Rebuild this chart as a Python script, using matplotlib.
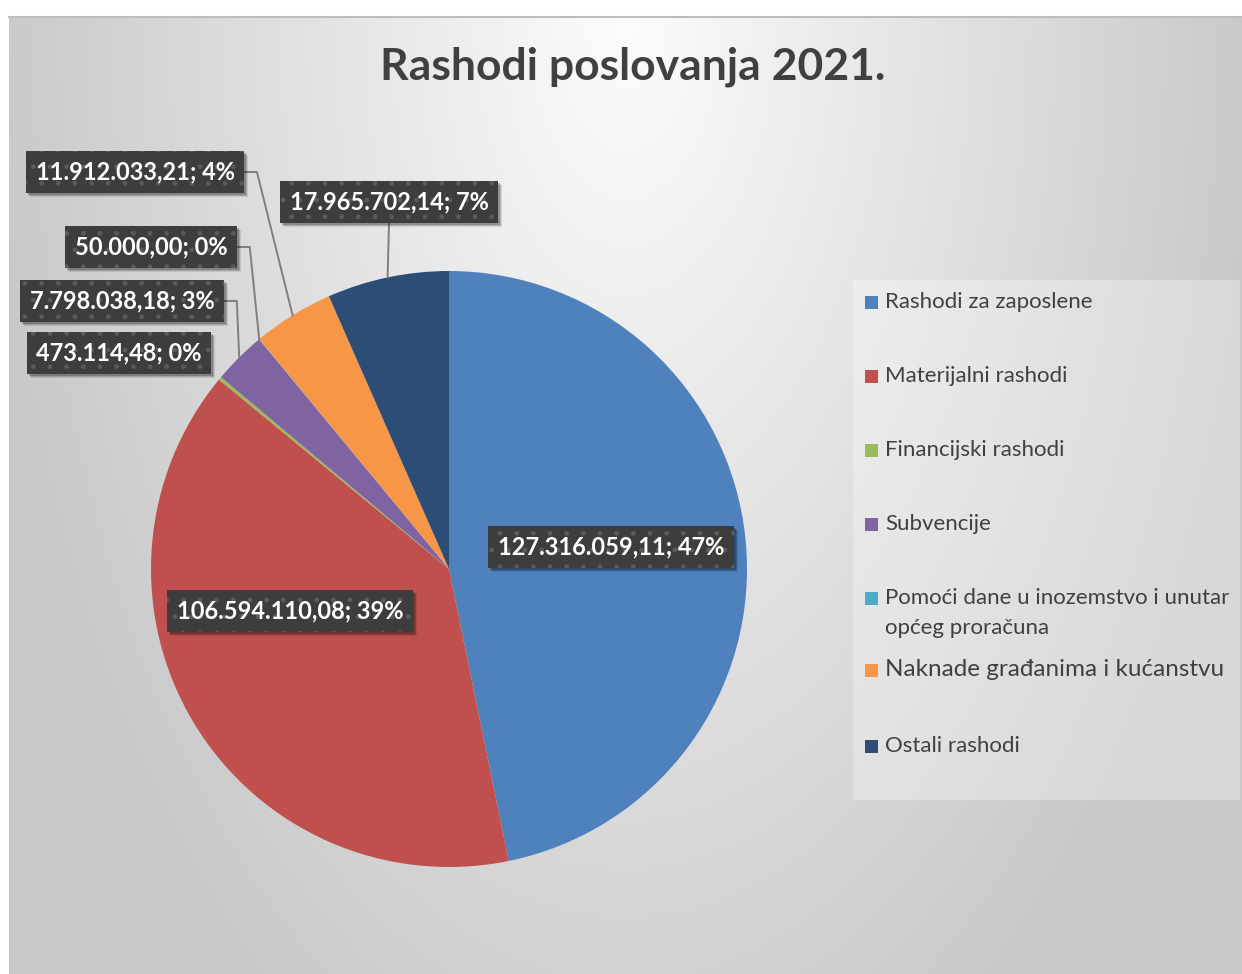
import numpy as np
import matplotlib
matplotlib.use("Agg")
import matplotlib.pyplot as plt
from matplotlib.patches import Rectangle

plt.rcParams["font.family"] = ["Lato", "DejaVu Sans"]

# --- data -------------------------------------------------------------
categories = [
    "Rashodi za zaposlene",
    "Materijalni rashodi",
    "Financijski rashodi",
    "Subvencije",
    "Pomoći dane u inozemstvo i unutar\nopćeg proračuna",
    "Naknade građanima i kućanstvu",
    "Ostali rashodi",
]
values = [127316059.11, 106594110.08, 473114.48, 7798038.18,
          50000.00, 11912033.21, 17965702.14]
colors = ["#4F81BD", "#C0504D", "#9BBB59", "#8064A2",
          "#4BACC6", "#F79646", "#2C4D75"]
title = "Rashodi poslovanja 2021."

# --- layout (pixel coords, y from top) --------------------------------
W, H = 1242, 974
pie_center = (449, 569)
pie_radius = 298
# centre of each data label box
label_pos = [(611, 547), (290, 611), (119, 353), (122, 301),
             (151, 247), (135, 172), (389, 202)]
# leader style: None, "elbow" (from right side) or "down" (from bottom)
leader = [None, None, None, "elbow", "elbow", "elbow", "down"]
legend_y = [302, 376, 450, 524, 598, 670, 746]
legend_size = [16, 16, 16, 16, 16, 17.5, 16]


def fy(y):
    return H - y


def fmt(v, total):
    s = f"{v:,.2f}".replace(",", "X").replace(".", ",").replace("X", ".")
    return f"{s}; {round(100 * v / total)}%"


fig = plt.figure(figsize=(W / 100, H / 100), dpi=100)
fig.patch.set_facecolor("white")
ax = fig.add_axes([0, 0, 1, 1])

# chart area background: light centre at top fading to grey
xx, yy = np.meshgrid(np.arange(9, W), np.arange(16, H))
d = np.sqrt(((xx - 625) / 640.0) ** 2 + (0.8 * (yy - 16) / 958.0) ** 2)
g = (252 - 52 * np.clip(d, 0, 1)) / 255.0
ax.imshow(np.dstack([g, g, g]), extent=(9, W, 0, fy(16)), origin="upper",
          zorder=0, interpolation="bilinear")
ax.plot([9, W], [fy(16.5), fy(16.5)], color="#bdbdbd", lw=1.5, zorder=1)

# pie
wedges, _ = ax.pie(values, colors=colors, startangle=90, counterclock=False,
                   center=(pie_center[0], fy(pie_center[1])), radius=pie_radius,
                   wedgeprops=dict(linewidth=0), frame=True)
for w in wedges:
    w.set_zorder(2)

ax.set_xlim(0, W)
ax.set_ylim(0, H)
ax.set_aspect("equal")
ax.axis("off")

ax.text(633, fy(67), title, ha="center", va="center", fontsize=32,
        fontweight="bold", color="#404040", zorder=5)

# data labels
total = sum(values)
texts = []
for v, (lx, ly) in zip(values, label_pos):
    t = ax.text(lx, fy(ly), fmt(v, total), ha="center", va="center",
                fontsize=17, fontweight="bold", color="white", zorder=6,
                bbox=dict(boxstyle="square,pad=0.4", fc="#3d3d3d",
                          ec="#5a5a5a", lw=0, hatch="."))
    texts.append(t)

fig.canvas.draw()
r = fig.canvas.get_renderer()
for i, t in enumerate(texts):
    bb = t.get_bbox_patch().get_window_extent(r)
    # soft drop shadow
    for k, a in [(4, 0.10), (3, 0.15), (2, 0.2)]:
        ax.add_patch(Rectangle((bb.x0 + k, bb.y0 - k), bb.width, bb.height,
                               fc="black", alpha=a, lw=0, zorder=5.5))
    if leader[i] is None:
        continue
    w = wedges[i]
    mid = np.deg2rad((w.theta1 + w.theta2) / 2)
    axp = pie_center[0] + pie_radius * np.cos(mid)
    ayp = fy(pie_center[1]) + pie_radius * np.sin(mid)
    if leader[i] == "elbow":
        ymid = (bb.y0 + bb.y1) / 2
        xs = [bb.x1, bb.x1 + 13, axp]
        ys = [ymid, ymid, ayp]
    else:
        xm = (bb.x0 + bb.x1) / 2
        xs = [xm, axp]
        ys = [bb.y0, ayp]
    ax.plot(xs, ys, color="#7f7f7f", lw=1.4, zorder=3)

# legend
ax.add_patch(Rectangle((853, fy(800)), W - 2 - 853, 520, fc="white",
                       alpha=0.3, lw=0, zorder=1))
for name, c, y, s in zip(categories, colors, legend_y, legend_size):
    ax.add_patch(Rectangle((865, fy(y) - 6.5), 13, 13, fc=c, lw=0, zorder=5))
    for j, line in enumerate(name.split("\n")):
        ax.text(885, fy(y + 30 * j), line, ha="left", va="center",
                fontsize=s, color="#404040", zorder=5)

fig.savefig("out.png", dpi=100)
